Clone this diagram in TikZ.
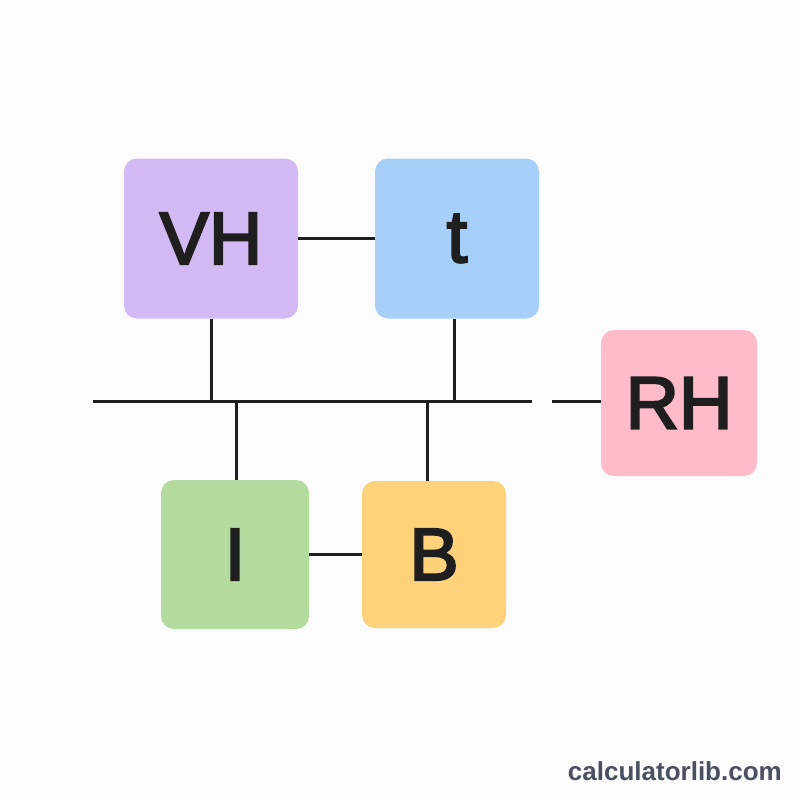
\documentclass[tikz,border=0pt]{standalone}
\usepackage{fontspec}
\setmainfont{Liberation Sans}
\newfontfamily\lblfont{Liberation Sans}[FakeBold=3]
\definecolor{bg}{HTML}{FCFCFC}
\definecolor{ink}{HTML}{1E1E1E}
\definecolor{vhc}{HTML}{D4BAF5}
\definecolor{tc}{HTML}{A6CFFA}
\definecolor{rhc}{HTML}{FFBBCA}
\definecolor{ic}{HTML}{B3DB9D}
\definecolor{bc}{HTML}{FDD27B}
\definecolor{wm}{HTML}{4A5060}
\begin{document}
\begin{tikzpicture}[x=1pt,y=-1pt,
  box/.style={rounded corners=13pt, inner sep=0pt, text=ink,
    font=\lblfont\fontsize{74}{80}\selectfont},
  wire/.style={line width=3pt, draw=ink}]
\useasboundingbox[fill=bg] (0,0) rectangle (800,800);
\node[box, fill=vhc, minimum width=174pt, minimum height=160pt] (VH) at (211,238.5) {VH};
\node[box, fill=tc, minimum width=164pt, minimum height=160pt] (T) at (457,238.5) {t};
\node[box, fill=rhc, minimum width=156pt, minimum height=146pt] (RH) at (679,403) {RH};
\node[box, fill=ic, minimum width=148pt, minimum height=149pt] (I) at (235,554.5) {I};
\node[box, fill=bc, minimum width=144pt, minimum height=147pt] (B) at (434,554.5) {B};
\coordinate (bl) at (93,401);
\coordinate (br) at (532,401);
\coordinate (rs) at (552,401);
\draw[wire] (bl) -- (br);
\draw[wire] (VH.east) -- (T.west);
\draw[wire] (I.east) -- (B.west);
\draw[wire] (VH.south) -- (VH.south |- bl);
\draw[wire] ([xshift=-3pt]T.south) -- ([xshift=-3pt]T.south |- bl);
\draw[wire] ([xshift=1pt]I.north) -- ([xshift=1pt]I.north |- bl);
\draw[wire] ([xshift=-7pt]B.north) -- ([xshift=-7pt]B.north |- bl);
\draw[wire] (rs) -- (rs -| RH.west);
\node[anchor=base east, inner sep=0pt, text=wm, font=\bfseries\fontsize{26}{30}\selectfont] (wmk) at (782,780) {calculatorlib.com};
\end{tikzpicture}
\end{document}
